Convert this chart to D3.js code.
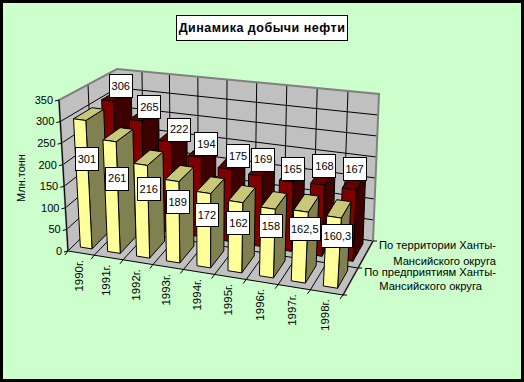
<!DOCTYPE html>
<html>
<head>
<meta charset="utf-8">
<script src="https://cdn.jsdelivr.net/npm/d3@7"></script>
<style>
  body { margin: 0; background: #ccffcc; }
  svg { display: block; font-family: "Liberation Sans", Arial, sans-serif; }
</style>
</head>
<body>
<div id="grafico"></div>
<script>
// datos
const anios = ["1990г.", "1991г.", "1992г.", "1993г.", "1994г.", "1995г.", "1996г.", "1997г.", "1998г."];
const territorio = [306, 265, 222, 194, 175, 169, 165, 168, 167];
const empresas = [301, 261, 216, 189, 172, 162, 158, 162.5, 160.3];
const territorioTxt = ["306", "265", "222", "194", "175", "169", "165", "168", "167"];
const empresasTxt = ["301", "261", "216", "189", "172", "162", "158", "162,5", "160,3"];
const ticksY = [0, 50, 100, 150, 200, 250, 300, 350];

const W = 524, H = 382;

const svg = d3.select("#grafico").append("svg").attr("width", W).attr("height", H);

// marco
svg.append("rect").attr("width", W).attr("height", H).attr("fill", "#000");
svg.append("rect").attr("x", 3).attr("y", 3).attr("width", W - 6).attr("height", H - 6).attr("fill", "#ccffcc");

// caja 3D: esquinas en pantalla
const caja = {
  fb0: [68, 251], ft0: [59, 100], bb0: [120, 200], bt0: [117, 69],
  fb1: [343, 295], ft1: [352, 141], bb1: [373, 241], bt1: [379, 94]
};

// el eje X se abre hacia la derecha por la perspectiva
const escX = d3.scalePow().exponent(1.07).domain([0, anios.length]).range([0, 1]);
const escY = d3.scaleLinear().domain([0, 350]).range([0, 1]);
const escZ = d3.scaleLinear().domain([0, 2]).range([0, 1]);

function proyectar(cat, valor, prof) {
  const u = escX(cat), v = escY(valor), w = escZ(prof);
  const mezcla = k => {
    const f0 = caja.fb0[k] + (caja.ft0[k] - caja.fb0[k]) * v;
    const b0 = caja.bb0[k] + (caja.bt0[k] - caja.bb0[k]) * v;
    const f1 = caja.fb1[k] + (caja.ft1[k] - caja.fb1[k]) * v;
    const b1 = caja.bb1[k] + (caja.bt1[k] - caja.bb1[k]) * v;
    const i0 = f0 + (b0 - f0) * w;
    const i1 = f1 + (b1 - f1) * w;
    return i0 + (i1 - i0) * u;
  };
  return [mezcla(0), mezcla(1)];
}

const linea = d3.line();
const n = anios.length;

function poligono(puntos, relleno, borde, ancho) {
  svg.append("path")
    .attr("d", linea(puntos) + "Z")
    .attr("fill", relleno)
    .attr("stroke", borde)
    .attr("stroke-width", ancho)
    .attr("stroke-linejoin", "round");
}

function segmento(a, b, color, ancho) {
  svg.append("line")
    .attr("x1", a[0]).attr("y1", a[1])
    .attr("x2", b[0]).attr("y2", b[1])
    .attr("stroke", color)
    .attr("stroke-width", ancho);
}

// paredes y piso
poligono([proyectar(0, 0, 0), proyectar(0, 350, 0), proyectar(0, 350, 2), proyectar(0, 0, 2)], "#c0c0c0", "none", 0);
poligono([proyectar(0, 0, 2), proyectar(0, 350, 2), proyectar(n, 350, 2), proyectar(n, 0, 2)], "#c0c0c0", "none", 0);
poligono([proyectar(0, 0, 0), proyectar(n, 0, 0), proyectar(n, 0, 2), proyectar(0, 0, 2)], "#c0c0c0", "none", 0);

// rejilla
ticksY.forEach(t => {
  if (t < 350) {
    segmento(proyectar(0, t, 0), proyectar(0, t, 2), "#000", 1);
    segmento(proyectar(0, t, 2), proyectar(n, t, 2), "#000", 1);
  }
});
d3.range(1, n).forEach(i => {
  segmento(proyectar(i, 0, 2), proyectar(i, 350, 2), "#000", 1);
  segmento(proyectar(i, 0, 0), proyectar(i, 0, 2), "#000", 1);
});
segmento(proyectar(0, 0, 1), proyectar(0, 350, 1), "#000", 1);
segmento(proyectar(0, 0, 1), proyectar(n, 0, 1), "#000", 1);

// bordes grises de las paredes
svg.append("path")
  .attr("d", linea([proyectar(0, 0, 0), proyectar(0, 350, 0), proyectar(0, 350, 2), proyectar(n, 350, 2), proyectar(n, 0, 2), proyectar(n, 0, 0)]))
  .attr("fill", "none")
  .attr("stroke", "#808080")
  .attr("stroke-width", 2);

// ejes
segmento(proyectar(0, 0, 0), proyectar(0, 350, 0), "#000", 1);
segmento(proyectar(0, 0, 0), proyectar(n, 0, 0), "#000", 1);
segmento(proyectar(n, 0, 0), proyectar(n, 0, 2), "#000", 1);

// marcas del eje Y
ticksY.forEach(t => {
  const p = proyectar(0, t, 0);
  segmento([p[0] - 4, p[1] + 1], p, "#000", 1);
  svg.append("text")
    .attr("x", p[0] - 6).attr("y", p[1])
    .attr("dy", "0.35em")
    .attr("text-anchor", "end")
    .attr("font-size", 11)
    .text(d3.format("d")(t));
});

// marcas y etiquetas del eje X
d3.range(0, n + 1).forEach(i => {
  const p = proyectar(i, 0, 0);
  segmento(p, [p[0] - 3, p[1] + 4], "#000", 1);
});
anios.forEach((a, i) => {
  const p = proyectar(i + 0.5, 0, 0);
  svg.append("text")
    .attr("transform", `translate(${p[0] - 2},${p[1] + 7}) rotate(-90)`)
    .attr("dy", "0.35em")
    .attr("text-anchor", "end")
    .attr("font-size", 11.5)
    .text(a);
});

// marcas del eje Z
[0, 1, 2].forEach(z => {
  const p = proyectar(n, 0, z);
  segmento(p, [p[0] + 4, p[1]], "#000", 1);
});

// barras: serie del fondo primero, de izquierda a derecha
function barra(cat, valor, z0, z1, colores) {
  const x0 = cat + 0.3, x1 = cat + 0.74;
  const a = proyectar(x0, 0, z0), b = proyectar(x1, 0, z0), c = proyectar(x1, 0, z1);
  const at = proyectar(x0, valor, z0), bt = proyectar(x1, valor, z0), ct = proyectar(x1, valor, z1), dt = proyectar(x0, valor, z1);
  poligono([b, bt, ct, c], colores.lado, "#000", 1);
  poligono([at, dt, ct, bt], colores.tapa, "#000", 1);
  poligono([a, at, bt, b], colores.frente, "#000", 1);
}

const rojo = { frente: "#800000", lado: "#3c0000", tapa: "#600000" };
const amarillo = { frente: "#ffff99", lado: "#808050", tapa: "#c8c878" };

territorio.forEach((v, i) => barra(i, v, 1.2, 1.85, rojo));
empresas.forEach((v, i) => barra(i, v, 0.2, 0.85, amarillo));

// etiquetas de datos (movidas a mano en el original)
const ajusteTerritorio = [[5, -10], [6, -8], [7, -6], [5, -6], [7, -6], [2, -9], [1, -5], [2, -11], [1, -12.5]];
const ajusteEmpresas = [[-1, 44], [0, 43], [1, 30], [-1, 28], [-3, 29], [-3, 28], [-2.5, 25], [-1, 25], [-1, 26]];

function etiqueta(cat, valor, prof, txt, ajuste) {
  const p = proyectar(cat + 0.5, valor, prof);
  const cx = p[0] + ajuste[0], cy = p[1] + ajuste[1];
  const ancho = txt.length > 3 ? 31 : 23, alto = 23;
  svg.append("rect")
    .attr("x", Math.round(cx - ancho / 2) + 0.5).attr("y", Math.round(cy - alto / 2) + 0.5)
    .attr("width", ancho).attr("height", alto)
    .attr("fill", "#fff").attr("stroke", "#000");
  svg.append("text")
    .attr("x", cx + 0.5).attr("y", cy + 0.5)
    .attr("dy", "0.35em")
    .attr("text-anchor", "middle")
    .attr("font-size", 11)
    .text(txt);
}

territorioTxt.forEach((t, i) => etiqueta(i, territorio[i], 1.5, t, ajusteTerritorio[i]));
empresasTxt.forEach((t, i) => etiqueta(i, empresas[i], 0.5, t, ajusteEmpresas[i]));

// nombres de las series
const serieFondo = ["По территории Ханты-", "Мансийского округа"];
const serieFrente = ["По предприятиям Ханты-", "Мансийского округа"];

function textoSerie(prof, lineas, xFin, dy) {
  const p = proyectar(n, 0, prof);
  lineas.forEach((l, i) => {
    svg.append("text")
      .attr("x", xFin[i]).attr("y", p[1] + dy[i])
      .attr("dy", "0.35em")
      .attr("text-anchor", "end")
      .attr("font-size", 11.2)
      .text(l);
  });
}
textoSerie(1.5, serieFondo, [496, 496], [-9, 7]);
textoSerie(0.5, serieFrente, [496, 482], [-9, 5]);

// titulo del eje Y
svg.append("text")
  .attr("transform", "translate(21,178) rotate(-90)")
  .attr("dy", "0.35em")
  .attr("text-anchor", "middle")
  .attr("font-size", 11)
  .text("Млн.тонн");

// titulo
svg.append("rect")
  .attr("x", 176.5).attr("y", 15.5).attr("width", 171).attr("height", 25)
  .attr("fill", "#fff").attr("stroke", "#000");
svg.append("text")
  .attr("x", 262).attr("y", 28)
  .attr("dy", "0.35em")
  .attr("text-anchor", "middle")
  .attr("font-size", 12.5)
  .attr("font-weight", "bold")
  .attr("letter-spacing", "0.5px")
  .text("Динамика добычи нефти");
</script>
</body>
</html>
